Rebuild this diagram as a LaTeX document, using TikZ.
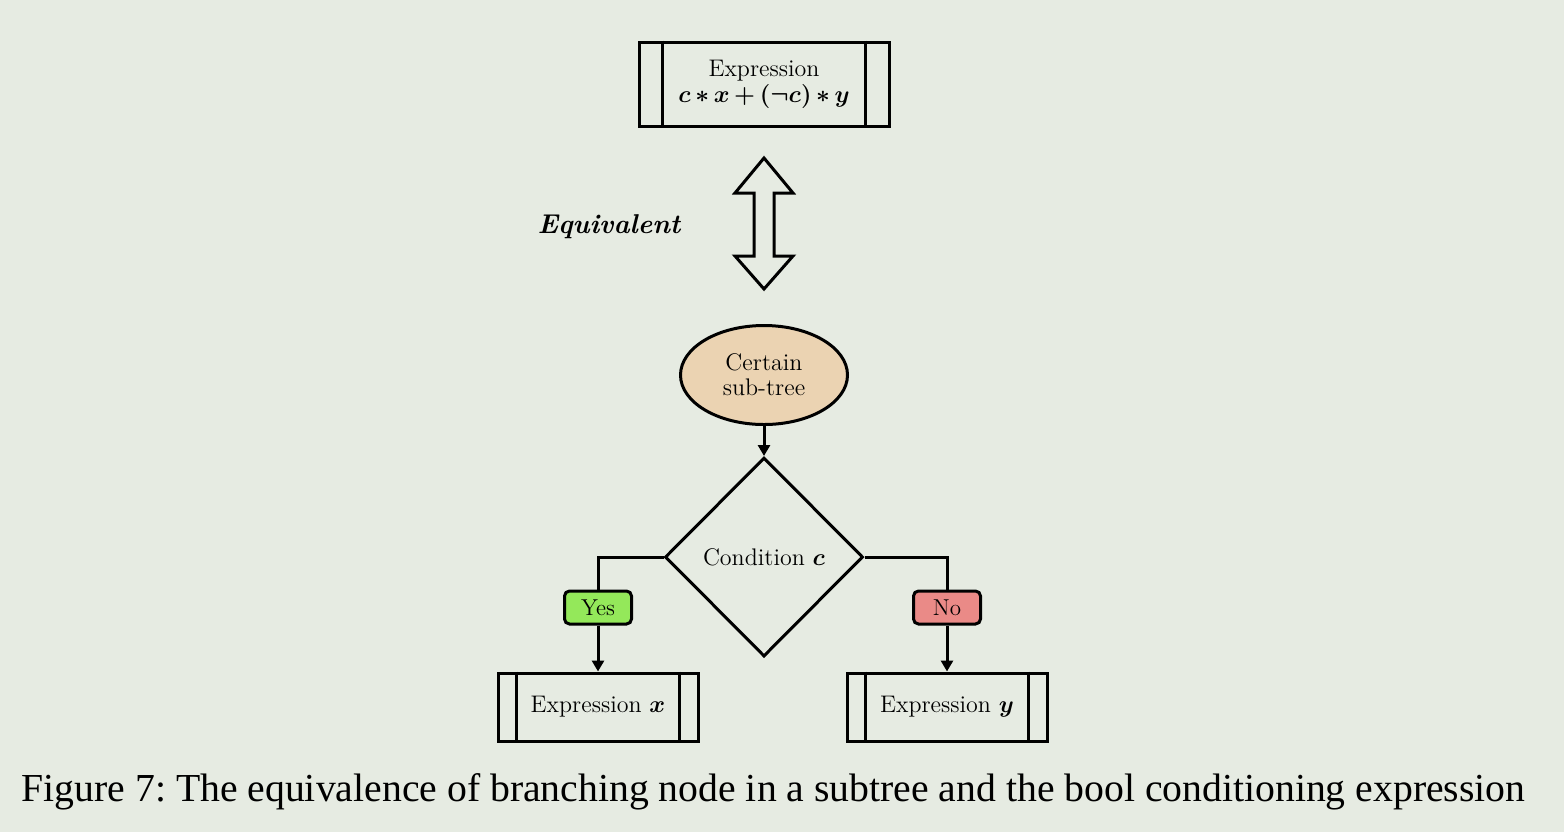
\documentclass[tikz,border=0pt]{standalone}
\usepackage{fontspec}
\newfontfamily\capfont{Liberation Serif}
\usetikzlibrary{shapes.geometric,arrows.meta}
\definecolor{bgc}{HTML}{E6EBE2}
\definecolor{tanc}{HTML}{EBD3B2}
\definecolor{yesc}{HTML}{94E85A}
\definecolor{noc}{HTML}{EA8A87}
\frenchspacing
\tikzset{
  lw/.style={line width=1.5pt},
  proc/.style={draw, lw, rectangle, inner sep=0pt, font=\fontsize{12}{14}\selectfont, align=center},
  bigproc/.style={proc, minimum width=125pt, minimum height=42pt},
  smallproc/.style={proc, minimum width=100pt, minimum height=34pt},
  ell/.style={draw, lw, ellipse, fill=tanc, minimum width=83.5pt, minimum height=49.5pt, inner sep=0pt, align=center, font=\fontsize{12}{12.5}\selectfont},
  dia/.style={draw, lw, diamond, minimum width=99pt, minimum height=99.5pt, inner sep=0pt, font=\fontsize{12}{14}\selectfont},
  tag/.style={draw, lw, rounded corners=2.5pt, minimum width=33.5pt, minimum height=16.5pt, inner sep=0pt, font=\fontsize{11.5}{13}\selectfont},
  conn/.style={lw},
  arr/.style={lw, -{Triangle[length=5.5pt,width=6pt]}},
}
\begin{document}
\begin{tikzpicture}[x=0.5pt,y=-0.5pt]
\fill[bgc] (0,0) rectangle (1564,832);
\useasboundingbox (0,0) rectangle (1564,832);
% top expression
\node[bigproc] (top) at (764,84) {Expression\\[-1pt]{\boldmath$c\,{\ast}\,x\,{+}\,(\neg c)\,{\ast}\,y$}};
\draw[lw] ([xshift=12.5pt]top.north west) -- ([xshift=12.5pt]top.south west);
\draw[lw] ([xshift=-12.5pt]top.north east) -- ([xshift=-12.5pt]top.south east);
% double arrow
\draw[lw, line join=miter] (764,158) -- (793,193) -- (774,193) -- (774,256) -- (793,256) -- (764,289) -- (735,256) -- (754,256) -- (754,193) -- (735,193) -- cycle;
\node[font=\fontsize{13.6}{16}\selectfont\bfseries\itshape] (eq) at (609,227) {Equivalent};
% ellipse
\node[ell] (sub) at (764,375) {Certain\\sub-tree};
% diamond
\node[dia] (cond) at (764,557) {Condition {\boldmath$c$}};
\draw[arr] (sub.south) -- (cond.north);
% tags
\node[tag, fill=yesc] (yes) at (598,607.5) {Yes};
\node[tag, fill=noc] (no) at (947,607.5) {No};
\draw[conn] (cond.west) -| (yes.north);
\draw[conn] (cond.east) -| (no.north);
% bottom expressions
\node[smallproc] (ex) at (598,707) {Expression {\boldmath$x$}};
\draw[lw] ([xshift=10pt]ex.north west) -- ([xshift=10pt]ex.south west);
\draw[lw] ([xshift=-10pt]ex.north east) -- ([xshift=-10pt]ex.south east);
\node[smallproc] (ey) at (947,707) {Expression {\boldmath$y$}};
\draw[lw] ([xshift=10pt]ey.north west) -- ([xshift=10pt]ey.south west);
\draw[lw] ([xshift=-10pt]ey.north east) -- ([xshift=-10pt]ey.south east);
\draw[arr] (yes.south) -- (ex.north);
\draw[arr] (no.south) -- (ey.north);
% caption
\node[font=\capfont\fontsize{19.85}{23}\selectfont, inner sep=0pt] (cap) at (773.5,792) {Figure 7: The equivalence of branching node in a subtree and the bool conditioning expression};
\end{tikzpicture}
\end{document}
